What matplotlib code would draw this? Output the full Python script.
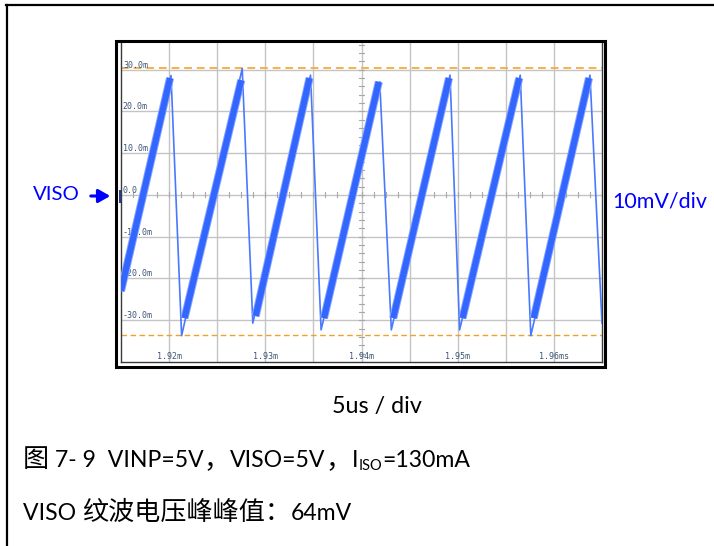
import matplotlib
matplotlib.use("Agg")
import matplotlib.pyplot as plt
from matplotlib.patches import Rectangle, FancyArrowPatch
import numpy as np

W, H, DPI = 714, 546, 100

# ---- data (time in microseconds, voltage in mV) ----
trace_t = [1915.0, 1920.2, 1921.3, 1927.6, 1928.7, 1934.7, 1935.8, 1941.9,
           1943.1, 1949.2, 1950.2, 1956.5, 1957.6, 1963.75, 1965.0]
trace_v = [-23.0, 28.6, -33.7, 30.3, -30.7, 28.7, -32.3, 27.1,
           -32.3, 28.7, -32.3, 28.7, -33.7, 28.7, -30.7]
# thick ripple band on the rising ramps
rise_t0 = [1915.0, 1921.6, 1929.0, 1936.1, 1943.3, 1950.5, 1957.9]
rise_v0 = [-23.0, -29.5, -29.0, -29.5, -29.5, -29.5, -29.5]
rise_t1 = [1920.1, 1927.5, 1934.6, 1941.8, 1949.1, 1956.4, 1963.65]
rise_v1 = [28.0, 27.5, 28.0, 27.1, 28.0, 28.0, 28.0]
cursor_v = [30.4, -33.6]
y_ticks = [30, 20, 10, 0, -10, -20, -30]
y_labels = ["30.0m", "20.0m", "10.0m", "0.0", "-10.0m", "-20.0m", "-30.0m"]
x_ticks = [1920, 1930, 1940, 1950, 1960]
x_labels = ["1.92m", "1.93m", "1.94m", "1.95m", "1.96ms"]

def fx(x):
    return x / W

def fy(y):
    return 1 - y / H

fig = plt.figure(figsize=(W / DPI, H / DPI), dpi=DPI)
fig.patch.set_facecolor("white")
renderer = fig.canvas.get_renderer()

# outer page frame lines
fig.add_artist(plt.Line2D([fx(6), fx(714)], [fy(5), fy(5)], color="black", lw=1.6))
fig.add_artist(plt.Line2D([fx(7), fx(7)], [fy(5), fy(546)], color="black", lw=1.6))

# scope axes
ax = fig.add_axes([fx(121), fy(362), (602 - 121) / W, (362 - 43) / H])
ax.set_xlim(1915, 1965)
ax.set_ylim(-40, 36.4)
ax.set_xticks([])
ax.set_yticks([])
for s in ["left", "bottom", "right"]:
    ax.spines[s].set_color("#3a3a3a")
    ax.spines[s].set_linewidth(1.0)
ax.spines["top"].set_visible(False)

grid_c = "#c4c4c4"
for gx in np.arange(1920, 1965, 5):
    ax.axvline(gx, color=grid_c, lw=1.0, zorder=1)
for gy in y_ticks:
    ax.axhline(gy, color=grid_c, lw=1.0, zorder=1)
# minor ticks on centre axes
for mx in np.arange(1915, 1965.01, 1.25):
    ax.plot([mx, mx], [-0.6, 0.6], color="#a8a8a8", lw=0.8, zorder=1)
for my in np.arange(-40, 36.4, 2):
    ax.plot([1939.75, 1940.25], [my, my], color="#a8a8a8", lw=0.8, zorder=1)

# cursors
ax.axhline(cursor_v[0], color="#f5b04a", lw=1.4, ls=(0, (4, 2.5)), zorder=2)
ax.axhline(cursor_v[1], color="#f0a030", lw=1.0, ls=(0, (4, 2.5)), zorder=2)

# labels inside scope
lab_c = "#3d5577"
for v, s in zip(y_ticks, y_labels):
    ax.text(1915.2, v, s, fontsize=6, family="DejaVu Sans Mono", color=lab_c,
            ha="left", va="bottom", zorder=3)
for t, s in zip(x_ticks, x_labels):
    ax.text(t, -38.8, s, fontsize=6, family="DejaVu Sans Mono", color=lab_c,
            ha="center", va="center", zorder=3)

# trace
blue = "#3366ff"
ax.plot(trace_t, trace_v, color="#4a78ff", lw=1.2, zorder=4)
for t0, v0, t1, v1 in zip(rise_t0, rise_v0, rise_t1, rise_v1):
    ax.plot([t0, t1], [v0, v1], color="#86a4ff", lw=5.8, solid_capstyle="butt", zorder=4)
    ax.plot([t0, t1], [v0, v1], color=blue, lw=4.4, solid_capstyle="butt", zorder=5)

# scope outer frame
fig.add_artist(Rectangle((fx(115.5), fy(366.5)), (604.5 - 115.5) / W, (366.5 - 40.5) / H,
                         transform=fig.transFigure, fill=False, ec="black", lw=2.2))
# channel marker
fig.add_artist(Rectangle((fx(118.5), fy(203)), 2 / W, 13 / H, transform=fig.transFigure,
                         color="#1f3f9f", lw=0))

LAT = ["Lato", "DejaVu Sans"]
CJK = ["Noto Sans CJK SC", "DejaVu Sans"]


def fitted_text(x, y, s, target_w, ha, color, fam=LAT):
    t = fig.text(fx(x), fy(y), s, fontsize=14, family=fam, color=color, ha=ha, va="center")
    bb = t.get_window_extent(renderer=renderer)
    t.set_fontsize(14 * target_w / bb.width)
    return t


def place_runs(runs, x0, base_y, target_w):
    def draw(scale):
        made = []
        x = x0
        for s, size, fam, dy in runs:
            t = fig.text(fx(x), fy(base_y + dy), s, fontsize=size * scale, family=fam,
                         color="black", ha="left", va="baseline")
            made.append(t)
            x = t.get_window_extent(renderer=renderer).x1
        return made, x
    made, xe = draw(1.0)
    scale = target_w / (xe - x0)
    for t in made:
        t.remove()
    draw(scale)


fitted_text(33, 194, "VISO", 47, "left", "#0000ff")
fig.add_artist(FancyArrowPatch(
    (fx(88), fy(196)), (fx(113), fy(196)), transform=fig.transFigure,
    arrowstyle="-|>,head_length=7,head_width=4", color="#0000ff", lw=2.2,
    mutation_scale=1))
fitted_text(612, 201, "10mV/div", 96, "left", "#0000ff")
fitted_text(377, 406, "5us / div", 90, "center", "black")

place_runs([("图", 17, CJK, 0), (" 7- 9  VINP=5V", 15, LAT, 0), ("，", 17, CJK, 0),
            ("VISO=5V", 15, LAT, 0), ("，", 17, CJK, 0), ("I", 15, LAT, 0),
            ("ISO", 9.5, LAT, 2.5), ("=130mA", 15, LAT, 0)],
           23, 467, 447)
place_runs([("VISO ", 15, LAT, 0), ("纹波电压峰峰值：", 17, CJK, 0), ("64mV", 15, LAT, 0)],
           23, 519.5, 329)

fig.savefig("out.png", dpi=DPI)
